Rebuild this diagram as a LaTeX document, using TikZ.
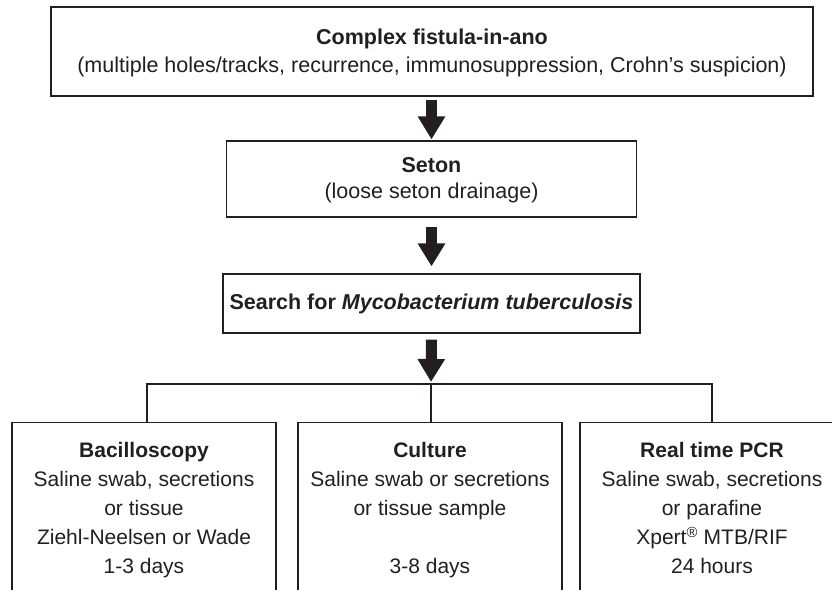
\documentclass[tikz,border=0pt]{standalone}
\usepackage{fontspec}
\setmainfont{Liberation Sans}
\usetikzlibrary{arrows.meta}
\definecolor{ink}{HTML}{231F20}
\begin{document}
\begin{tikzpicture}[x=1pt,y=-1pt,
  box/.style={draw=ink, line width=1.1pt, inner sep=0pt},
  txt/.style={text=ink, font=\fontsize{21.5}{26}\selectfont, align=center, inner sep=0pt},
  btxt/.style={text=ink, font=\fontsize{21}{29}\selectfont, align=center, inner sep=0pt, anchor=north},
  bigarrow/.style={draw=ink, line width=11pt, -{Triangle[width=26pt,length=23pt]}},
  link/.style={draw=ink, line width=1.1pt}]
\useasboundingbox (0,0) rectangle (832,589);
\clip (0,0) rectangle (832,589);
% top box
\node[box, minimum width=762pt, minimum height=89pt] (top) at (432,51.5) {};
\node[txt, font=\fontsize{21.5}{28}\selectfont] (toptxt) at (432,53) {\textbf{Complex fistula-in-ano}\\(multiple holes/tracks, recurrence, immunosuppression, Crohn’s suspicion)};
% seton
\node[box, minimum width=410pt, minimum height=76pt] (seton) at (431.5,179) {};
\node[txt] (setontxt) at (431.5,180) {\textbf{Seton}\\(loose seton drainage)};
% search
\node[box, minimum width=417pt, minimum height=59pt] (search) at (431.5,303.5) {};
\node[txt] (searchtxt) at (431.5,304) {\textbf{Search for \textit{Mycobacterium tuberculosis}}};
% arrows
\coordinate (hub) at (431,384);
\draw[bigarrow, shorten <=3pt, shorten >=1pt] (top.south -| seton.north) -- (seton.north);
\draw[bigarrow, shorten <=9pt, shorten >=7pt] (seton.south) -- (search.north);
\draw[bigarrow, shorten <=6pt, shorten >=2pt] (search.south) -- (hub);
% bottom boxes
\node[box, minimum width=264pt, minimum height=200pt, anchor=north] (bac) at (144,422) {};
\node[box, minimum width=264pt, minimum height=200pt, anchor=north] (cul) at (430,422) {};
\node[box, minimum width=264pt, minimum height=200pt, anchor=north] (pcr) at (712,422) {};
\coordinate (busL) at (147,384);
\coordinate (busR) at (712,384);
\draw[link] (busL |- bac.north) -- (busL) -- (busR) -- (pcr.north);
\draw[link] (hub) -- (hub |- cul.north);
% bottom texts
\node[btxt] (bactxt) at (144,442.5) {\textbf{Bacilloscopy}\\Saline swab, secretions\\or tissue\\Ziehl-Neelsen or Wade\\1-3 days};
\node[btxt] (cultxt) at (430,442.5) {\textbf{Culture}\\Saline swab or secretions\\or tissue sample\\\mbox{}\\3-8 days};
\node[btxt] (pcrtxt) at (712,442.5) {\textbf{Real time PCR}\\Saline swab, secretions\\or parafine\\Xpert\textsuperscript{®} MTB/RIF\\24 hours};
\end{tikzpicture}
\end{document}
